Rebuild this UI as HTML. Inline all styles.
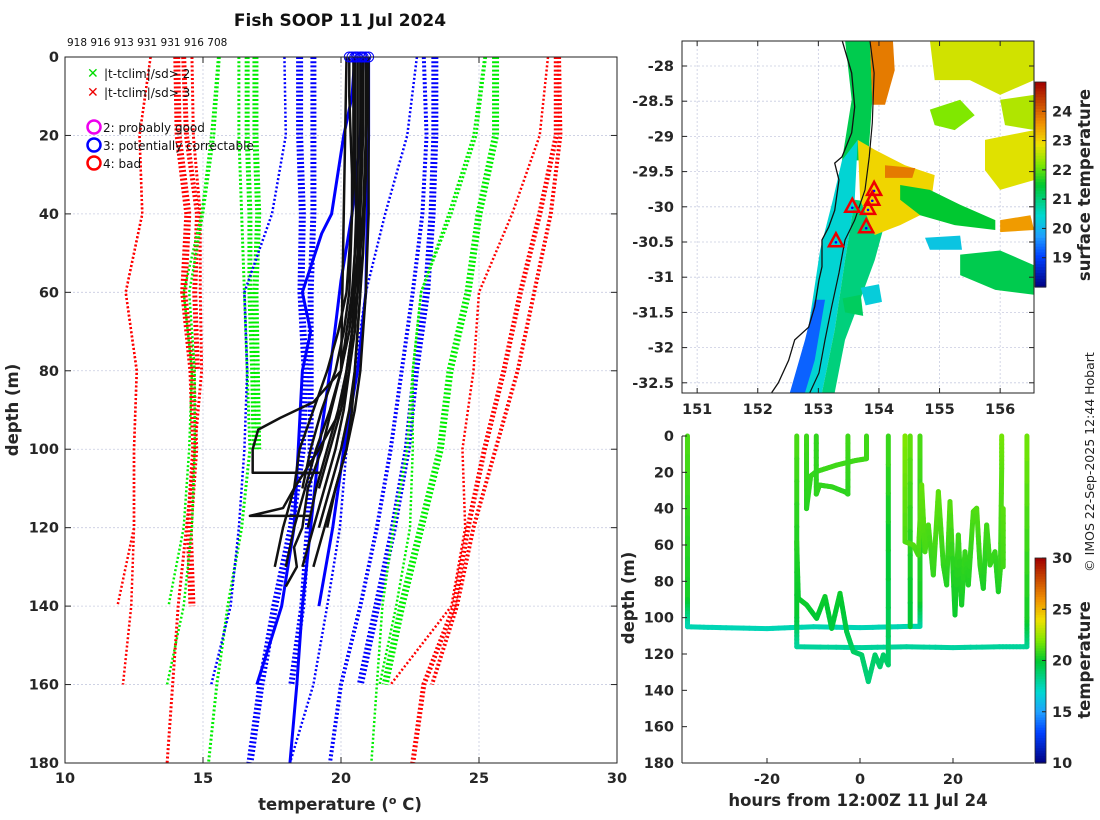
<!DOCTYPE html>
<html><head><meta charset="utf-8"><title>Fish SOOP 11 Jul 2024</title>
<style>
html,body{margin:0;padding:0;background:#fff;}
svg{display:block;font-family:"DejaVu Sans","Liberation Sans",sans-serif;}
.tk{font-size:14.5px;font-weight:bold;fill:#262626;}
.lab{font-size:16.5px;font-weight:bold;fill:#262626;}
</style></head>
<body>
<svg id="fig" width="1100" height="820" viewBox="0 0 1100 820" xmlns="http://www.w3.org/2000/svg">
<rect width="1100" height="820" fill="#fff"/>
<text x="340" y="26" text-anchor="middle" style="font-size:17px;font-weight:bold;fill:#111">Fish SOOP 11 Jul 2024</text>
<text x="67" y="46" style="font-size:10.5px;fill:#111">918 916 913 931 931 916 708</text>
<g id="main"></g>
<g id="map"></g>
<g id="ts"></g>
<text x="340" y="810" text-anchor="middle" class="lab">temperature (<tspan dy="-6" style="font-size:11px">o</tspan><tspan dy="6"> C)</tspan></text>
<text transform="translate(18,410) rotate(-90)" text-anchor="middle" class="lab">depth (m)</text>
<text transform="translate(634,598) rotate(-90)" text-anchor="middle" class="lab">depth (m)</text>
<text x="858" y="806" text-anchor="middle" class="lab">hours from 12:00Z 11 Jul 24</text>
<text transform="translate(1090,185) rotate(-90)" text-anchor="middle" class="lab">surface temperature</text>
<text transform="translate(1090,660) rotate(-90)" text-anchor="middle" class="lab">temperature</text>
<text transform="translate(1094,462) rotate(-90)" text-anchor="middle" style="font-size:12.5px;fill:#222">© IMOS 22-Sep-2025 12:44 Hobart</text>
</svg>
<script>
// ---------- profile plot data ----------
const climDepths = [0,20,40,60,80,100,120,140,160,180];
const climRed1 = [13.1,12.7,12.8,12.2,12.6,12.5,12.5,11.9,null,null];
const climRed2 = [13.1,12.7,12.8,12.2,12.6,12.5,12.5,12.4,12.1,null];
const climRed3 = [14.05,14.1,14.45,14.3,14.6,14.7,14.5,14.6,null,null];
const climRed4 = [14.6,14.65,14.9,14.9,14.95,14.7,14.4,14.1,13.9,13.7];
const climRed5 = [14.3,14.4,14.8,14.7,14.8,null,null,null,null,null];
const climGreen1 = [15.55,15.3,14.95,14.3,14.6,14.5,14.3,13.75,null,null];
const climGreen2 = [15.6,15.4,15.0,14.5,14.7,14.7,14.6,14.3,13.7,null];
const climGreen3 = [16.3,16.3,16.4,16.5,16.6,16.7,16.4,15.9,15.5,15.2];
const climGreen4 = [16.9,16.9,17.0,16.9,16.95,17.0,null,null,null,null];
const climGreen5 = [16.6,16.6,16.7,16.7,16.8,16.85,null,null,null,null];
const climBlue1 = [17.95,18.0,17.5,16.5,16.6,16.5,16.3,16.0,15.3,null];
const climBlue2 = [18.5,18.5,18.6,18.55,18.7,18.6,18.2,17.6,17.1,16.7];
const climBlue3 = [19.0,19.0,19.0,18.9,18.9,18.9,18.8,18.6,18.2,null];
const climBlue4 = [22.75,22.4,21.6,20.9,20.5,20.2,19.96,19.5,19.0,18.15];
const climBlue5 = [23.0,23.1,22.95,22.6,22.2,21.8,21.3,20.7,20.0,19.6];
const climBlue6 = [23.4,23.4,23.3,23.1,22.7,22.4,21.9,21.3,20.7,null];
const climGreen6 = [25.25,24.9,24.0,22.9,22.6,22.6,22.5,22.0,21.4,null];
const climGreen7 = [25.2,24.8,23.9,22.9,22.6,22.4,21.9,21.5,21.3,21.1];
const climGreen8 = [25.6,25.6,25.0,24.6,23.95,23.6,22.9,22.2,21.6,null];
const climRed6 = [27.5,27.2,26.2,25.0,24.8,24.4,24.5,24.0,21.8,null];
const climRed7 = [27.8,27.8,27.2,26.5,25.9,25.2,24.6,24.1,23.0,22.6];
const climRed8 = [27.9,27.95,27.6,27.0,26.4,25.6,24.8,24.2,23.3,null];
const climSeries = [climRed1,climRed2,climRed3,climRed4,climRed5,climGreen1,climGreen2,climGreen3,climGreen4,climGreen5,climBlue1,climBlue2,climBlue3,climBlue4,climBlue5,climBlue6,climGreen6,climGreen7,climGreen8,climRed6,climRed7,climRed8];
const climColors = ['#ff0000','#ff0000','#ff0000','#ff0000','#ff0000','#00ee00','#00ee00','#00ee00','#00ee00','#00ee00','#0000ff','#0000ff','#0000ff','#0000ff','#0000ff','#0000ff','#00ee00','#00ee00','#00ee00','#ff0000','#ff0000','#ff0000'];
const climWidths = [2.5,2.5,7,3,5,2.5,2.5,3,6,5,2.5,7,6,2.5,4,7,2.5,2.5,7,2.5,5,4];

const blackDepths = [0,10,20,30,40,50,60,70,80,90,100,110,120,130];
const black1 = [20.5,20.5,20.5,20.5,20.55,20.5,20.45,20.3,20.0,19.6,19.1,18.7,18.3,18.0];
const black2 = [20.7,20.7,20.7,20.7,20.7,20.6,20.5,20.4,20.3,20.1,19.8,19.4,19.0,18.6];
const black3 = [20.9,20.9,20.9,20.9,20.85,20.8,20.7,20.6,20.5,20.3,20.0,19.6,19.2,null];
const black4 = [21.0,21.0,21.0,21.0,21.0,20.95,20.9,20.8,20.7,20.5,20.2,19.8,19.4,19.0];
const black5 = [20.3,20.3,20.35,20.4,20.4,20.3,20.2,19.9,19.5,19.0,18.5,18.3,17.9,17.6];
const black6 = [20.6,20.6,20.6,20.6,20.6,20.6,20.6,20.5,20.3,20.0,19.6,19.2,null,null];
const black7 = [20.8,20.8,20.8,20.75,20.7,20.7,20.7,20.6,20.5,20.4,20.2,19.8,19.5,null];
const black8 = [20.45,20.45,20.45,20.45,20.4,20.35,20.3,20.1,19.8,19.3,18.9,18.6,null,null];
const black9 = [20.95,20.95,20.9,20.85,20.8,20.7,20.6,20.4,20.2,19.9,19.5,19.1,18.8,null];
const blackSeries = [black1,black2,black3,black4,black5,black6,black7,black8,black9];
const stepDepths1 = [0,40,60,80,88,92,95,100,106,106];
const stepTemps1 = [20.6,20.6,20.4,20.0,19.0,17.8,17.0,16.8,16.8,19.3];
const stepDepths2 = [0,60,90,100,110,115,117,117];
const stepTemps2 = [20.8,20.6,20.0,19.2,18.3,17.9,16.7,18.9];
const stepDepths3 = [0,80,100,110,120,125,130,135];
const stepTemps3 = [20.2,20.0,19.3,18.8,18.6,18.3,18.4,18.0];

const flagDepths1 = [0,10,20,40,45,60,70,80,100,120,140,160];
const flagTemps1 = [20.5,20.4,20.1,19.66,19.3,18.6,18.9,18.6,18.45,18.3,17.85,16.95];
const flagDepths2 = [0,20,40,57,80,100,120,140,160,180];
const flagTemps2 = [20.8,20.7,20.4,20.0,19.6,19.2,18.9,18.6,18.4,18.15];
const flagDepths3 = [0,20,40,60,80,100,120,140];
const flagTemps3 = [21.0,21.0,20.95,20.9,20.6,20.1,19.7,19.2];
const startTemps = [20.3,20.4,20.5,20.55,20.6,20.7,20.75,20.8,20.9,21.0];

const xTicks = [10,15,20,25,30];
const yTicks = [0,20,40,60,80,100,120,140,160,180];

// ---------- map data ----------
const mapLonTicks = [151,152,153,154,155,156];
const mapLatTicks = [-28,-28.5,-29,-29.5,-30,-30.5,-31,-31.5,-32,-32.5];
const sstTicks = [19,20,21,22,23,24];
const coastLon = [153.39,153.55,153.60,153.55,153.39,153.27,153.34,153.27,153.17,153.06,153.06,153.01,152.94,152.84,152.61,152.51,152.34,152.23];
const coastLat = [-27.63,-28.10,-28.58,-28.95,-29.29,-29.38,-29.62,-30.05,-30.29,-30.47,-30.85,-31.04,-31.42,-31.71,-31.89,-32.18,-32.50,-32.64];
const isoLon = [153.85,153.92,153.89,153.84,153.77,153.60,153.44,153.34,153.22,153.11,153.01,152.86];
const isoLat = [-27.63,-28.10,-28.81,-29.29,-29.76,-30.19,-30.47,-30.94,-31.42,-31.89,-32.36,-32.64];
const patchSst = [21.3,23.8,20.4,21.0,19.3,23.0,23.8,21.5,22.7,22.2,22.5,21.3,20.2,22.8,23.5,21.2,20.3];
const patchLon = [
 [153.44,153.85,153.89,153.82,153.39,153.55],
 [153.85,154.23,154.26,154.10,153.89],
 [153.65,153.65,153.60,153.44,153.27,153.06,152.70,152.83,153.03,153.24,153.39],
 [153.60,154.18,153.93,153.69,153.44,153.27,153.06,153.27,153.44],
 [152.94,153.11,152.94,152.78,152.53,152.78],
 [153.65,153.93,154.43,154.92,154.84,154.35,153.93,153.69],
 [154.10,154.60,154.55,154.10],
 [154.35,154.84,155.34,155.92,155.92,155.25,154.68,154.35],
 [154.84,156.56,156.56,156.00,155.50,154.92],
 [154.84,155.34,155.58,155.25,154.92],
 [156.00,156.56,156.56,156.08],
 [155.34,156.00,156.56,156.56,155.92,155.34],
 [154.76,155.34,155.37,154.84],
 [155.75,156.56,156.56,156.00,155.75],
 [156.00,156.50,156.56,156.00],
 [153.40,153.70,153.74,153.44],
 [153.70,154.00,154.05,153.78]
];
const patchLat = [
 [-27.63,-27.63,-28.48,-29.34,-29.34,-28.48],
 [-27.63,-27.63,-28.06,-28.55,-28.55],
 [-29.05,-29.05,-29.90,-30.76,-31.75,-32.64,-32.64,-31.75,-30.61,-29.90,-29.34],
 [-29.90,-29.97,-30.76,-31.32,-31.89,-32.64,-32.64,-31.75,-30.76],
 [-31.32,-31.32,-32.18,-32.64,-32.64,-31.89],
 [-29.05,-29.19,-29.41,-29.55,-30.05,-30.26,-30.40,-29.90],
 [-29.41,-29.45,-29.59,-29.59],
 [-29.69,-29.76,-29.97,-30.19,-30.33,-30.26,-30.12,-29.90],
 [-27.63,-27.63,-28.20,-28.41,-28.20,-28.20],
 [-28.62,-28.48,-28.70,-28.91,-28.84],
 [-28.48,-28.41,-28.91,-28.84],
 [-30.68,-30.62,-30.83,-31.25,-31.18,-30.97],
 [-30.44,-30.41,-30.61,-30.61],
 [-29.05,-28.91,-29.62,-29.76,-29.48],
 [-30.19,-30.12,-30.33,-30.36],
 [-31.30,-31.25,-31.55,-31.50],
 [-31.15,-31.10,-31.35,-31.40]
];
const stationLon = [153.92,153.89,153.82,153.56,153.79,153.29];
const stationLat = [-29.76,-29.90,-30.03,-30.00,-30.29,-30.49];

// ---------- depth-time data ----------
const tsXTicks = [-20,0,20];
const tsYTicks = [0,20,40,60,80,100,120,140,160,180];
const tempTicks = [10,15,20,25,30];
const trackHours = [
 [-37.1,-37.1,-37.1,-30,-20,-10,0,10.8,12.9,12.9,12.9],
 [-13.6,-13.6,-13.6,0,10,20,30,35.9,35.9,35.9],
 [9.7,9.7],
 [10.8,10.8],
 [-11.5,-11.5,-10.6,-9.4,-5,-1,1.4,1.4],
 [-9.4,-9.4,-8.7,-6,-3,-2.6,-2.6],
 [-13.62,-13.26,-11.47,-9.32,-7.53,-6.09,-4.30,-2.87,-1.43,0.36,1.79,3.23,4.30,5.02,6.09,6.09],
 [9.68,9.68,11.47,12.54,13.26,13.98,14.7,15.77,16.85,17.92,18.64,19.35,20.43,21.15,21.86,22.58,23.3,24.37,25.09,25.8,26.52,27.24,27.96,29.03,29.75,30.2,30.47,30.47],
 [30.8,30.8]
];
const trackDepths = [
 [0,90,105,105.5,106,105,105.5,104.8,104.8,90,0],
 [0,100,116,116.5,116,116.5,116,116,100,0],
 [0,58],
 [0,105],
 [0,40,22,19.6,16,13.5,12.5,0],
 [0,32,27,28,31,32,0],
 [58,89.4,93,100.4,88.4,105.9,86.6,107.7,118.7,120.5,135.2,120.5,127,120.5,126,0],
 [0,58.2,60,65.5,26.9,63.7,49,76.5,30.6,71,82,36.1,98.5,54.5,93,63.7,82,41.6,39.8,71,83.9,49,71,63.7,85.7,72.8,17.8,0],
 [40,72]
];
const trackTemps = [
 [21.2,20.3,17.6,17.5,17.5,17.6,17.5,17.6,17.6,20.3,21.2],
 [21.2,20.0,18.0,18.0,18.0,17.9,18.0,18.0,20.3,21.8],
 [22.0,21.2],
 [21.6,19.8],
 [21.0,20.6,20.8,20.9,21.0,21.0,21.0,21.0],
 [20.8,20.7,20.8,20.8,20.7,20.7,21.0],
 [20.6,20.1,20.2,19.9,20.2,19.7,20.2,19.6,19.1,19.0,18.6,19.0,18.9,19.0,18.9,21.0],
 [22.0,21.2,21.3,21.1,21.6,21.1,21.2,20.8,21.5,20.8,20.5,21.4,20.1,21.0,20.3,20.9,20.5,21.2,21.3,20.8,20.4,21.0,20.8,20.9,20.4,20.8,21.4,21.8],
 [21.4,21.0]
];

// colormap
const cmapStops = [[0,'#000080'],[0.15,'#0040ff'],[0.25,'#20a0ff'],[0.35,'#00d8d0'],[0.5,'#00c830'],[0.6,'#80e800'],[0.7,'#f0e000'],[0.8,'#f09000'],[1,'#a00000']];
function hex2rgb(h){return [parseInt(h.substr(1,2),16),parseInt(h.substr(3,2),16),parseInt(h.substr(5,2),16)];}
function cmap(f){f=Math.max(0,Math.min(1,f));for(let i=1;i<cmapStops.length;i++){if(f<=cmapStops[i][0]){const a=cmapStops[i-1],b=cmapStops[i];const u=(f-a[0])/(b[0]-a[0]);const ca=hex2rgb(a[1]),cb=hex2rgb(b[1]);return 'rgb('+ca.map((v,k)=>Math.round(v+(cb[k]-v)*u)).join(',')+')';}}return cmapStops[cmapStops.length-1][1];}

const NS='http://www.w3.org/2000/svg';
function mk(parent,tag,attrs,txt){const e=document.createElementNS(NS,tag);for(const k in attrs)e.setAttribute(k,attrs[k]);if(txt!==undefined)e.textContent=txt;parent.appendChild(e);return e;}

// ===== profile plot =====
const main=document.getElementById('main');
const PX0=65,PX1=617,PY0=57,PY1=763;
function xT(t){return PX0+(t-10)/20*(PX1-PX0);}
function yD(d){return PY0+d/180*(PY1-PY0);}
const cp=mk(main,'clipPath',{id:'cpMain'});mk(cp,'rect',{x:PX0,y:PY0,width:PX1-PX0,height:PY1-PY0});
xTicks.forEach(t=>{if(t>10&&t<30){const g=mk(main,'line',{x1:xT(t),x2:xT(t),y1:PY0,y2:PY1,stroke:'#c8cce0','stroke-width':0.8,'stroke-dasharray':'2,2'});}});
yTicks.forEach(d=>{if(d>0&&d<180){const g=mk(main,'line',{x1:PX0,x2:PX1,y1:yD(d),y2:yD(d),stroke:'#c8cce0','stroke-width':0.8,'stroke-dasharray':'2,2'});}});
const gClim=mk(main,'g',{'clip-path':'url(#cpMain)'});
climSeries.forEach((s,i)=>{let pts=[];s.forEach((t,j)=>{if(t!==null)pts.push(xT(t)+','+yD(climDepths[j]));});
 const p=mk(gClim,'polyline',{points:pts.join(' '),fill:'none',stroke:climColors[i],'stroke-width':climWidths[i],'stroke-dasharray':'2,2.2'});
 
 });
function drawProfile(ds,ts,color,w,name){let pts=[];ts.forEach((t,j)=>{if(t!==null)pts.push(xT(t)+','+yD(ds[j]));});
 const p=mk(gClim,'polyline',{points:pts.join(' '),fill:'none',stroke:color,'stroke-width':w,'stroke-linejoin':'round'});
 
 }
drawProfile(flagDepths1,flagTemps1,'#0000ff',3,'flagged-profile');
drawProfile(flagDepths2,flagTemps2,'#0000ff',3,'flagged-profile');
drawProfile(flagDepths3,flagTemps3,'#0000ff',3,'flagged-profile');
blackSeries.forEach(s=>drawProfile(blackDepths,s,'#111',2.5,'xbt-profile'));
drawProfile(stepDepths1,stepTemps1,'#111',2.5,'xbt-profile');
drawProfile(stepDepths2,stepTemps2,'#111',2.5,'xbt-profile');
drawProfile(stepDepths3,stepTemps3,'#111',2.5,'xbt-profile');
startTemps.forEach(t=>{const c=mk(main,'circle',{cx:xT(t),cy:yD(0),r:5,fill:'none',stroke:'#0000ff','stroke-width':1});});
const fr=mk(main,'rect',{x:PX0,y:PY0,width:PX1-PX0,height:PY1-PY0,fill:'none',stroke:'#222','stroke-width':1});


xTicks.forEach(t=>{mk(main,'line',{x1:xT(t),x2:xT(t),y1:PY1,y2:PY1-6,stroke:'#222'});mk(main,'line',{x1:xT(t),x2:xT(t),y1:PY0,y2:PY0+6,stroke:'#222'});
 const l=mk(main,'text',{x:xT(t),y:PY1+20,'text-anchor':'middle',class:'tk'},String(t));});
yTicks.forEach(d=>{mk(main,'line',{x1:PX0,x2:PX0+6,y1:yD(d),y2:yD(d),stroke:'#222'});mk(main,'line',{x1:PX1,x2:PX1-6,y1:yD(d),y2:yD(d),stroke:'#222'});
 const l=mk(main,'text',{x:PX0-6,y:yD(d)+5,'text-anchor':'end',class:'tk'},String(d));});
// legend
const lg=mk(main,'g',{});


const leg=[['x','#00dd00','|t-tclim|/sd> 2',73],['x','#ee0000','|t-tclim|/sd> 3',92],['o','#ee00ee','2: probably good',127],['o','#0000ff','3: potentially correctable',145],['o','#ff0000','4: bad',163]];
leg.forEach(e=>{if(e[0]==='x'){mk(lg,'text',{x:87,y:e[3]+5,style:'font-size:14px;font-weight:bold;fill:'+e[1]},'✕');mk(lg,'text',{x:104,y:e[3]+5,style:'font-size:12px;fill:#111'},e[2]);}
 else{mk(lg,'circle',{cx:94,cy:e[3],r:6.5,fill:'none',stroke:e[1],'stroke-width':2.5});mk(lg,'text',{x:103,y:e[3]+5,style:'font-size:12px;fill:#111'},e[2]);}});

// ===== map =====
const map=document.getElementById('map');
const MX0=682,MX1=1034,MY0=41,MY1=393;
function xLon(l){return MX0+(l-150.75)*60.6;}
function yLat(l){return 66+(-28-l)*70.4;}
const cm=mk(map,'clipPath',{id:'cpMap'});mk(cm,'rect',{x:MX0,y:MY0,width:MX1-MX0,height:MY1-MY0});
const gm=mk(map,'g',{'clip-path':'url(#cpMap)'});
mapLonTicks.forEach(l=>mk(gm,'line',{x1:xLon(l),x2:xLon(l),y1:MY0,y2:MY1,stroke:'#c8cce0','stroke-width':0.8,'stroke-dasharray':'2,2'}));
mapLatTicks.forEach(l=>mk(gm,'line',{x1:MX0,x2:MX1,y1:yLat(l),y2:yLat(l),stroke:'#c8cce0','stroke-width':0.8,'stroke-dasharray':'2,2'}));
patchSst.forEach((s,i)=>{const pts=patchLon[i].map((lo,j)=>xLon(lo)+','+yLat(patchLat[i][j])).join(' ');
 const p=mk(gm,'polygon',{points:pts,fill:cmap((s-18)/7)});
 
 });
const cl=mk(gm,'polyline',{points:coastLon.map((l,i)=>xLon(l)+','+yLat(coastLat[i])).join(' '),fill:'none',stroke:'#111','stroke-width':1.3});


const iso=mk(gm,'polyline',{points:isoLon.map((l,i)=>xLon(l)+','+yLat(isoLat[i])).join(' '),fill:'none',stroke:'#111','stroke-width':1.2});


stationLon.forEach((lo,i)=>{const x=xLon(lo),y=yLat(stationLat[i]);
 const t=mk(gm,'polygon',{points:(x)+','+(y-8)+' '+(x-7)+','+(y+5)+' '+(x+7)+','+(y+5),fill:'none',stroke:'#ee0000','stroke-width':2.5});
 
 
 mk(gm,'circle',{cx:x,cy:y+1,r:1.3,fill:'#0000ff'});});
const mf=mk(map,'rect',{x:MX0,y:MY0,width:MX1-MX0,height:MY1-MY0,fill:'none',stroke:'#222'});


mapLonTicks.forEach(l=>{mk(map,'line',{x1:xLon(l),x2:xLon(l),y1:MY1,y2:MY1-5,stroke:'#222'});mk(map,'line',{x1:xLon(l),x2:xLon(l),y1:MY0,y2:MY0+5,stroke:'#222'});
 const t=mk(map,'text',{x:xLon(l),y:MY1+21,'text-anchor':'middle',class:'tk'},String(l));});
mapLatTicks.forEach(l=>{mk(map,'line',{x1:MX0,x2:MX0+5,y1:yLat(l),y2:yLat(l),stroke:'#222'});mk(map,'line',{x1:MX1,x2:MX1-5,y1:yLat(l),y2:yLat(l),stroke:'#222'});
 const t=mk(map,'text',{x:MX0-8,y:yLat(l)+5,'text-anchor':'end',class:'tk'},String(l));});
// sst colorbar
const CB1Y0=82,CB1Y1=287;
function ySst(s){return CB1Y1-(s-18)/7*(CB1Y1-CB1Y0);}
for(let k=0;k<70;k++){mk(map,'rect',{x:1035,y:CB1Y1-(k+1)*(CB1Y1-CB1Y0)/70,width:11,height:(CB1Y1-CB1Y0)/70+0.6,fill:cmap((k+0.5)/70)});}
const cb1=mk(map,'rect',{x:1035,y:CB1Y0,width:11,height:CB1Y1-CB1Y0,fill:'none',stroke:'#222','stroke-width':0.8});


sstTicks.forEach(s=>{mk(map,'line',{x1:1046,x2:1042,y1:ySst(s),y2:ySst(s),stroke:'#222'});
 const t=mk(map,'text',{x:1052,y:ySst(s)+5,class:'tk'},String(s));});

// ===== depth-time plot =====
const ts=document.getElementById('ts');
const TX0=682,TX1=1034,TY0=436,TY1=763;
function xH(h){return 860+h*4.65;}
function yTD(d){return TY0+d/180*(TY1-TY0);}
trackHours.forEach((hs,i)=>{const g=mk(ts,'g',{});
 
 
 for(let j=0;j<hs.length-1;j++){const n=8;for(let k=0;k<n;k++){const u0=k/n,u1=(k+1)/n;
  const h0=hs[j]+(hs[j+1]-hs[j])*u0,h1=hs[j]+(hs[j+1]-hs[j])*u1;
  const d0=trackDepths[i][j]+(trackDepths[i][j+1]-trackDepths[i][j])*u0,d1=trackDepths[i][j]+(trackDepths[i][j+1]-trackDepths[i][j])*u1;
  const tt=trackTemps[i][j]+(trackTemps[i][j+1]-trackTemps[i][j])*(u0+u1)/2;
  mk(g,'line',{x1:xH(h0),y1:yTD(d0),x2:xH(h1),y2:yTD(d1),stroke:cmap((tt-10)/20),'stroke-width':5,'stroke-linecap':'round'});}}});
mk(ts,'line',{x1:TX0,x2:TX0,y1:TY0,y2:TY1,stroke:'#222'});
mk(ts,'line',{x1:TX0,x2:TX1,y1:TY1,y2:TY1,stroke:'#222'});
tsXTicks.forEach(h=>{mk(ts,'line',{x1:xH(h),x2:xH(h),y1:TY1,y2:TY1-5,stroke:'#222'});
 const t=mk(ts,'text',{x:xH(h),y:TY1+21,'text-anchor':'middle',class:'tk'},String(h));});
tsYTicks.forEach(d=>{mk(ts,'line',{x1:TX0,x2:TX0+5,y1:yTD(d),y2:yTD(d),stroke:'#222'});
 const t=mk(ts,'text',{x:TX0-8,y:yTD(d)+5,'text-anchor':'end',class:'tk'},String(d));});
const CB2Y0=558,CB2Y1=763;
function yTemp(t){return CB2Y1-(t-10)/20*(CB2Y1-CB2Y0);}
for(let k=0;k<80;k++){mk(ts,'rect',{x:1035,y:CB2Y1-(k+1)*(CB2Y1-CB2Y0)/80,width:11,height:(CB2Y1-CB2Y0)/80+0.6,fill:cmap((k+0.5)/80)});}
const cb2=mk(ts,'rect',{x:1035,y:CB2Y0,width:11,height:CB2Y1-CB2Y0,fill:'none',stroke:'#222','stroke-width':0.8});


tempTicks.forEach(s=>{mk(ts,'line',{x1:1046,x2:1042,y1:yTemp(s),y2:yTemp(s),stroke:'#222'});
 const t=mk(ts,'text',{x:1052,y:yTemp(s)+5,class:'tk'},String(s));});
</script>
</body></html>
